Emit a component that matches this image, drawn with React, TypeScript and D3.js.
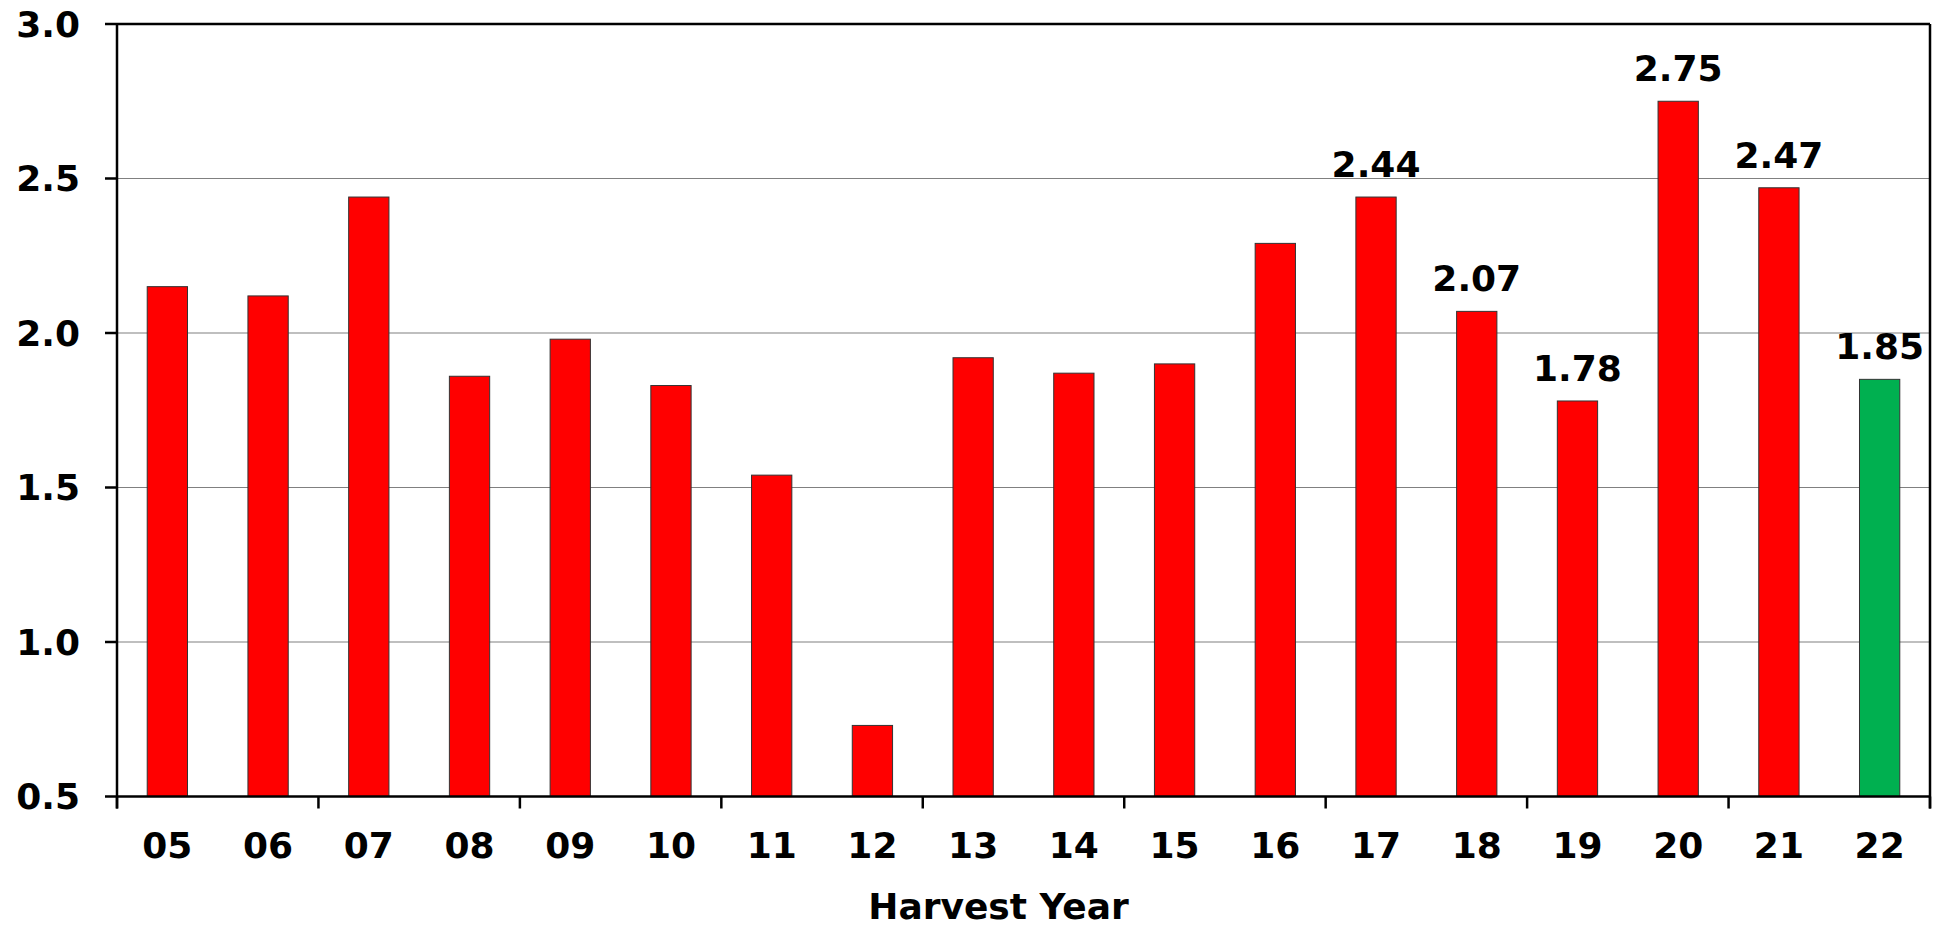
import * as d3 from "d3";
import React from "react";

// harvest years and values
const years = ["05", "06", "07", "08", "09", "10", "11", "12", "13", "14", "15", "16", "17", "18", "19", "20", "21", "22"];
const values = [2.15, 2.12, 2.44, 1.86, 1.98, 1.83, 1.54, 0.73, 1.92, 1.87, 1.9, 2.29, 2.44, 2.07, 1.78, 2.75, 2.47, 1.85];
const labelled = ["17", "18", "19", "20", "21", "22"];
const yTicks = [0.5, 1.0, 1.5, 2.0, 2.5, 3.0];

const App = () => {
    const width = 1939;
    const height = 927;
    const left = 117;
    const right = 1930;
    const top = 24;
    const bottom = 796.5;
    const font = "'DejaVu Sans', Verdana, sans-serif";

    const xScale = d3.scaleBand().domain(years).range([left, right]).paddingInner(0.6).paddingOuter(0.3);
    const step = (right - left) / years.length;

    const yScale = d3.scaleLinear().domain([0.5, 3.0]).range([bottom, top]);

    return (
        <svg width={width} height={height} style={{ position: "absolute", left: 0, top: 0, background: "#fff" }}>
            {/* gridlines */}
            {yTicks.map(t => (
                <line key={"g" + t} x1={left} x2={right} y1={yScale(t)} y2={yScale(t)} stroke="#808080" strokeWidth={1.2} />
            ))}
            {/* bars */}
            {years.map((yr, i) => (
                <rect
                    key={yr}
                    x={xScale(yr)}
                    y={yScale(values[i])}
                    width={xScale.bandwidth()}
                    height={bottom - yScale(values[i])}
                    fill={yr === "22" ? "#00B050" : "#FF0000"}
                    stroke="#333"
                    strokeWidth={1}
                />
            ))}
            {/* frame */}
            <line x1={left} x2={right} y1={top} y2={top} stroke="#000" strokeWidth={2.5} />
            <line x1={right} x2={right} y1={top} y2={bottom + 12} stroke="#000" strokeWidth={2.5} />
            <line x1={left} x2={left} y1={top} y2={bottom + 12} stroke="#000" strokeWidth={2.5} />
            <line x1={left} x2={right} y1={bottom} y2={bottom} stroke="#000" strokeWidth={2.5} />
            {/* y ticks */}
            {yTicks.map(t => (
                <g key={"y" + t}>
                    <line x1={left - 12} x2={left} y1={yScale(t)} y2={yScale(t)} stroke="#000" strokeWidth={2.5} />
                    <text x={80} y={yScale(t)} dy="0.36em" textAnchor="end" fontFamily={font} fontWeight="bold" fontSize={36}>
                        {t.toFixed(1)}
                    </text>
                </g>
            ))}
            {/* x ticks every two categories */}
            {d3.range(0, years.length + 1, 2).map(k => (
                <line key={"xt" + k} x1={left + k * step} x2={left + k * step} y1={bottom} y2={bottom + 12} stroke="#000" strokeWidth={2.5} />
            ))}
            {years.map(yr => (
                <text key={"xl" + yr} x={xScale(yr)! + xScale.bandwidth() / 2} y={858} textAnchor="middle" fontFamily={font} fontWeight="bold" fontSize={36}>
                    {yr}
                </text>
            ))}
            {/* value labels */}
            {years.map((yr, i) =>
                labelled.includes(yr) ? (
                    <text key={"v" + yr} x={xScale(yr)! + xScale.bandwidth() / 2} y={yScale(values[i]) - 20} textAnchor="middle" fontFamily={font} fontWeight="bold" fontSize={36}>
                        {values[i].toFixed(2)}
                    </text>
                ) : null
            )}
            <text x={(left + right) / 2 - 25} y={919} textAnchor="middle" fontFamily={font} fontWeight="bold" fontSize={36}>
                Harvest Year
            </text>
        </svg>
    );
};

export default App;
